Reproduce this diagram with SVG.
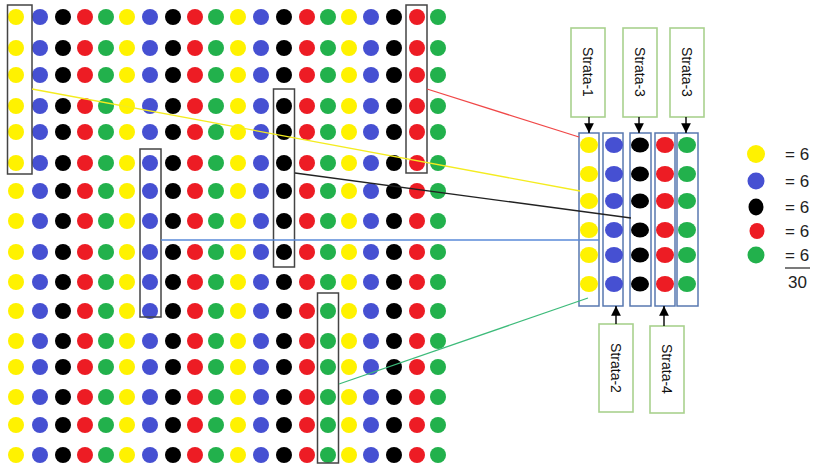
<svg xmlns="http://www.w3.org/2000/svg" xmlns:xlink="http://www.w3.org/1999/xlink" width="814" height="469" viewBox="0 0 814 469">
  <style>
    .y { fill: #fff200; }
    .b { fill: #4650d2; }
    .k { fill: #000000; }
    .r { fill: #ed1c24; }
    .g { fill: #22b14c; }
    .hl { fill: none; stroke: #444444; stroke-width: 1.5; }
    .col { fill: none; stroke: #5878b0; stroke-width: 1.5; }
    .lbl { fill: #ffffff; stroke: #a9d18e; stroke-width: 1.6; }
    .lbl-t { font-family: "Liberation Sans", Arial, sans-serif; font-size: 14px; fill: #111111; text-anchor: middle; dominant-baseline: central; }
    .arr { stroke: #000000; stroke-width: 1.4; fill: none; marker-end: url(#head); }
    .leg-t { font-family: "Liberation Sans", Arial, sans-serif; font-size: 17px; fill: #222222; }
    .conn { fill: none; stroke-width: 1.3; }
  </style>
  <defs>
    <marker id="head" viewBox="0 0 10 10" refX="10" refY="5" markerWidth="7" markerHeight="7" markerUnits="strokeWidth" orient="auto">
      <path d="M0,0 L10,5 L0,10 Z" fill="#000000"/>
    </marker>
    <!-- one row of the population: repeating yellow, blue, black, red, green -->
    <g id="row">
      <circle class="y" cx="16" cy="0" r="8"/>
      <circle class="b" cx="40" cy="0" r="8"/>
      <circle class="k" cx="63" cy="0" r="8"/>
      <circle class="r" cx="85" cy="0" r="8"/>
      <circle class="g" cx="106" cy="0" r="8"/>
      <circle class="y" cx="127" cy="0" r="8"/>
      <circle class="b" cx="150" cy="0" r="8"/>
      <circle class="k" cx="173" cy="0" r="8"/>
      <circle class="r" cx="195" cy="0" r="8"/>
      <circle class="g" cx="216" cy="0" r="8"/>
      <circle class="y" cx="238" cy="0" r="8"/>
      <circle class="b" cx="261" cy="0" r="8"/>
      <circle class="k" cx="284" cy="0" r="8"/>
      <circle class="r" cx="307" cy="0" r="8"/>
      <circle class="g" cx="328" cy="0" r="8"/>
      <circle class="y" cx="349" cy="0" r="8"/>
      <circle class="b" cx="371" cy="0" r="8"/>
      <circle class="k" cx="394" cy="0" r="8"/>
      <circle class="r" cx="417" cy="0" r="8"/>
      <circle class="g" cx="438" cy="0" r="8"/>
    </g>
  </defs>

  <rect width="814" height="469" fill="#ffffff"/>

  <!-- population grid -->
  <g id="population">
    <use xlink:href="#row" href="#row" y="17"/>
    <use xlink:href="#row" href="#row" y="48"/>
    <use xlink:href="#row" href="#row" y="75"/>
    <use xlink:href="#row" href="#row" y="106"/>
    <use xlink:href="#row" href="#row" y="132"/>
    <use xlink:href="#row" href="#row" y="163"/>
    <use xlink:href="#row" href="#row" y="191"/>
    <use xlink:href="#row" href="#row" y="221"/>
    <use xlink:href="#row" href="#row" y="252"/>
    <use xlink:href="#row" href="#row" y="282"/>
    <use xlink:href="#row" href="#row" y="311"/>
    <use xlink:href="#row" href="#row" y="341"/>
    <use xlink:href="#row" href="#row" y="367"/>
    <use xlink:href="#row" href="#row" y="397"/>
    <use xlink:href="#row" href="#row" y="425"/>
    <use xlink:href="#row" href="#row" y="455"/>
  </g>

  <!-- selected runs in the population -->
  <g id="pick-yellow"><rect class="hl" x="7.5" y="5" width="24.5" height="169"/></g>
  <g id="pick-blue"><rect class="hl" x="140" y="149" width="21" height="168"/></g>
  <g id="pick-black"><rect class="hl" x="273.5" y="89" width="21" height="178"/></g>
  <g id="pick-red"><rect class="hl" x="406" y="5" width="21" height="168"/></g>
  <g id="pick-green"><rect class="hl" x="317.5" y="293" width="21" height="170"/></g>

  <!-- sample columns -->
  <g id="sample-yellow">
    <rect class="col" x="579" y="133" width="20" height="173"/>
    <ellipse class="y" cx="589" cy="145" rx="9" ry="8"/>
    <ellipse class="y" cx="589" cy="174" rx="9" ry="8"/>
    <ellipse class="y" cx="589" cy="201" rx="9" ry="8"/>
    <ellipse class="y" cx="589" cy="230" rx="9" ry="8"/>
    <ellipse class="y" cx="589" cy="255" rx="9" ry="8"/>
    <ellipse class="y" cx="589" cy="284" rx="9" ry="8"/>
  </g>
  <g id="sample-blue">
    <rect class="col" x="603" y="133" width="20" height="173"/>
    <ellipse class="b" cx="614" cy="145" rx="9" ry="8"/>
    <ellipse class="b" cx="614" cy="174" rx="9" ry="8"/>
    <ellipse class="b" cx="614" cy="201" rx="9" ry="8"/>
    <ellipse class="b" cx="614" cy="230" rx="9" ry="8"/>
    <ellipse class="b" cx="614" cy="255" rx="9" ry="8"/>
    <ellipse class="b" cx="614" cy="284" rx="9" ry="8"/>
  </g>
  <g id="sample-black">
    <rect class="col" x="630" y="133" width="21" height="173"/>
    <ellipse class="k" cx="640" cy="145" rx="9" ry="7.5"/>
    <ellipse class="k" cx="640" cy="174" rx="9" ry="7.5"/>
    <ellipse class="k" cx="640" cy="201" rx="9" ry="7.5"/>
    <ellipse class="k" cx="640" cy="230" rx="9" ry="7.5"/>
    <ellipse class="k" cx="640" cy="255" rx="9" ry="7.5"/>
    <ellipse class="k" cx="640" cy="284" rx="9" ry="7.5"/>
  </g>
  <g id="sample-red">
    <rect class="col" x="655" y="133" width="20" height="173"/>
    <ellipse class="r" cx="665" cy="145" rx="9" ry="8"/>
    <ellipse class="r" cx="665" cy="174" rx="9" ry="8"/>
    <ellipse class="r" cx="665" cy="201" rx="9" ry="8"/>
    <ellipse class="r" cx="665" cy="230" rx="9" ry="8"/>
    <ellipse class="r" cx="665" cy="255" rx="9" ry="8"/>
    <ellipse class="r" cx="665" cy="284" rx="9" ry="8"/>
  </g>
  <g id="sample-green">
    <rect class="col" x="677" y="133" width="21" height="173"/>
    <ellipse class="g" cx="687" cy="145" rx="9" ry="8"/>
    <ellipse class="g" cx="687" cy="174" rx="9" ry="8"/>
    <ellipse class="g" cx="687" cy="201" rx="9" ry="8"/>
    <ellipse class="g" cx="687" cy="230" rx="9" ry="8"/>
    <ellipse class="g" cx="687" cy="255" rx="9" ry="8"/>
    <ellipse class="g" cx="687" cy="284" rx="9" ry="8"/>
  </g>

  <!-- strata labels -->
  <g id="label-strata-1">
    <rect class="lbl" x="571" y="28" width="34" height="89"/>
    <text class="lbl-t" transform="translate(588,72) rotate(90)">Strata-1</text>
  </g>
  <g id="label-strata-3a">
    <rect class="lbl" x="623" y="28" width="34" height="89"/>
    <text class="lbl-t" transform="translate(640,72) rotate(90)">Strata-3</text>
  </g>
  <g id="label-strata-3b">
    <rect class="lbl" x="670" y="28" width="34" height="89"/>
    <text class="lbl-t" transform="translate(687,72) rotate(90)">Strata-3</text>
  </g>
  <g id="label-strata-2">
    <rect class="lbl" x="599" y="324" width="34" height="88"/>
    <text class="lbl-t" transform="translate(616,368) rotate(90)">Strata-2</text>
  </g>
  <g id="label-strata-4">
    <rect class="lbl" x="650" y="326" width="34" height="87"/>
    <text class="lbl-t" transform="translate(667,369) rotate(90)">Strata-4</text>
  </g>

  <!-- connectors -->
  <g id="connectors">
    <line class="conn" x1="32" y1="89" x2="580" y2="191" stroke="#f4ec20"/>
    <line class="conn" x1="427" y1="89" x2="579" y2="137" stroke="#f04848"/>
    <line class="conn" x1="295" y1="173" x2="631" y2="218" stroke="#222222"/>
    <line class="conn" x1="161" y1="240" x2="599" y2="240" stroke="#5a8ad8"/>
    <line class="conn" x1="339" y1="384" x2="588" y2="298" stroke="#3dbb7a"/>
    <line class="arr" x1="589" y1="117" x2="589" y2="133"/>
    <line class="arr" x1="639" y1="117" x2="639" y2="133"/>
    <line class="arr" x1="686" y1="117" x2="686" y2="133"/>
    <line class="arr" x1="616" y1="324" x2="616" y2="306"/>
    <line class="arr" x1="664" y1="326" x2="664" y2="306"/>
  </g>

  <!-- legend -->
  <g id="legend">
    <circle class="y" cx="756" cy="154" r="9"/>
    <circle class="b" cx="756" cy="181" r="8.5"/>
    <ellipse class="k" cx="756" cy="207" rx="7.5" ry="8.5"/>
    <ellipse class="r" cx="757" cy="231" rx="7.5" ry="8"/>
    <circle class="g" cx="756" cy="255" r="8.5"/>
    <text class="leg-t" x="785" y="160">= 6</text>
    <text class="leg-t" x="785" y="187">= 6</text>
    <text class="leg-t" x="785" y="213">= 6</text>
    <text class="leg-t" x="785" y="237">= 6</text>
    <text class="leg-t" x="785" y="261">= 6</text>
    <line x1="785" y1="268" x2="810" y2="268" stroke="#333333" stroke-width="1.3"/>
    <text class="leg-t" x="788" y="288">30</text>
  </g>
</svg>
